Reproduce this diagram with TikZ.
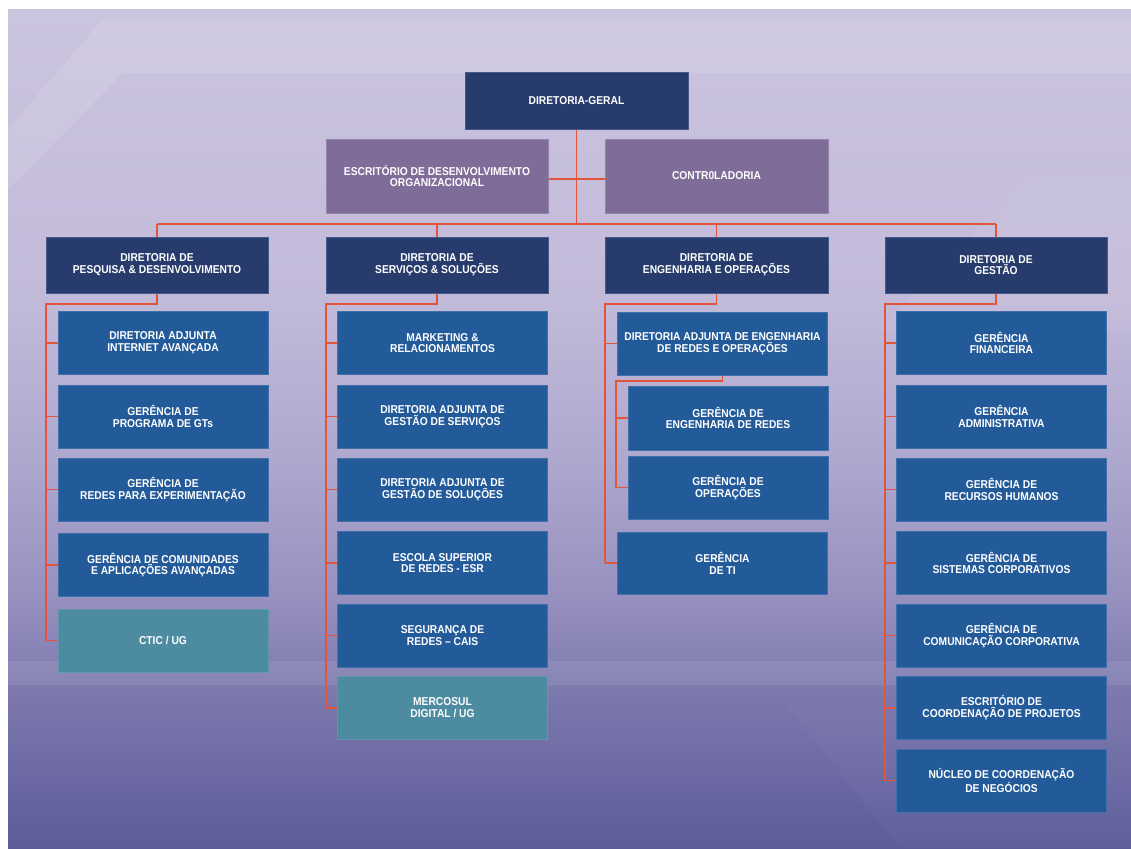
\documentclass[tikz,border=0pt]{standalone}
\usepackage{fontspec}
\setmainfont[FakeStretch=0.9]{Liberation Sans}
\usetikzlibrary{backgrounds}
\definecolor{navy}{HTML}{273C6C}
\definecolor{navyedge}{HTML}{45598A}
\definecolor{purp}{HTML}{7F6C98}
\definecolor{purpedge}{HTML}{9283AA}
\definecolor{blu}{HTML}{235B9A}
\definecolor{bluedge}{HTML}{3F70AA}
\definecolor{teal}{HTML}{4C8BA0}
\definecolor{tealedge}{HTML}{5E97AE}
\definecolor{linkred}{HTML}{E2553B}
\definecolor{bgA}{HTML}{5B5C98}
\definecolor{bgB}{HTML}{6966A2}
\definecolor{bgC}{HTML}{7B77AC}
\definecolor{bgD}{HTML}{9690BF}
\definecolor{bgE}{HTML}{B0A9CF}
\definecolor{bgF}{HTML}{C2BAD9}
\definecolor{bgG}{HTML}{CBC4DE}
\pgfdeclareverticalshading{bgshade}{100bp}{color(0bp)=(bgA);color(25bp)=(bgA);color(28.46bp)=(bgB);color(33.83bp)=(bgC);color(39.8bp)=(bgD);color(48.75bp)=(bgE);color(57.7bp)=(bgF);color(75bp)=(bgG);color(100bp)=(bgG)}
\pgfdeclarelayer{bglayer}
\pgfdeclarelayer{lines}
\pgfsetlayers{bglayer,lines,main}
\tikzset{
  boxbase/.style={rectangle, inner sep=0pt, align=center, text=white,
    font=\fontsize{11.4}{11.8}\selectfont\bfseries, line width=0.6pt},
  navybox/.style={boxbase, fill=navy, draw=navyedge},
  purplebox/.style={boxbase, fill=purp, draw=purpedge},
  bluebox/.style={boxbase, fill=blu, draw=bluedge},
  tealbox/.style={boxbase, fill=teal, draw=tealedge},
  topsize/.style={minimum width=222pt, minimum height=56pt},
  kidsize/.style={minimum width=210pt, minimum height=63pt},
  subsize/.style={minimum width=200pt, minimum height=63pt},
  link/.style={draw=linkred, line width=1.5pt}
}
\begin{document}
\begin{tikzpicture}[x=1pt,y=-1pt]
\useasboundingbox (0,0) rectangle (1131,848);
\begin{pgfonlayer}{bglayer}
  \fill[white] (0,0) rectangle (1131,848);
  \shade[shading=bgshade] (8,10) rectangle (1131,848);
  \fill[white, opacity=0.1] (103,19) -- (1131,19) -- (1131,73) -- (123,73) -- (8,190) -- (8,129) -- cycle;
  \fill[white, opacity=0.05] (1030,174) -- (1131,174) -- (1131,330) -- (880,330) -- cycle;
  \fill[white, opacity=0.08] (8,661) rectangle (1131,685);
  \fill[white, opacity=0.025] (787,706) -- (1131,706) -- (1131,848) -- (900,848) -- cycle;
\end{pgfonlayer}

% top level
\node[navybox, minimum width=223pt, minimum height=57pt] (dg) at (576.5,100.5) {DIRETORIA-GERAL};
\node[purplebox, minimum width=222pt, minimum height=74pt] (eso) at (437,176) {ESCRITÓRIO DE DESENVOLVIMENTO\\ORGANIZACIONAL};
\node[purplebox, minimum width=223pt, minimum height=74pt] (ctrl) at (716.5,176) {CONTR0LADORIA};

% directorates
\node[navybox, topsize] (pd) at (157,265) {DIRETORIA DE\\PESQUISA \& DESENVOLVIMENTO};
\node[navybox, topsize] (ss) at (437,265) {DIRETORIA DE\\SERVIÇOS \& SOLUÇÕES};
\node[navybox, topsize, minimum width=223pt] (eo) at (716.5,265) {DIRETORIA DE\\ENGENHARIA E OPERAÇÕES};
\node[navybox, topsize] (ge) at (996,265) {DIRETORIA DE\\GESTÃO};

% P&D
\node[bluebox, kidsize] (pd1) at (163,343) {DIRETORIA ADJUNTA\\INTERNET AVANÇADA};
\node[bluebox, kidsize] (pd2) at (163,416.5) {GERÊNCIA DE\\PROGRAMA DE GTs};
\node[bluebox, kidsize] (pd3) at (163,489.5) {GERÊNCIA DE\\REDES PARA EXPERIMENTAÇÃO};
\node[bluebox, kidsize] (pd4) at (163,565) {GERÊNCIA DE COMUNIDADES\\E APLICAÇÕES AVANÇADAS};
\node[tealbox, kidsize] (pd5) at (163,640.5) {CTIC / UG};

% S&S
\node[bluebox, kidsize] (ss1) at (442.5,343) {MARKETING \&\\RELACIONAMENTOS};
\node[bluebox, kidsize] (ss2) at (442.5,416.5) {DIRETORIA ADJUNTA DE\\GESTÃO DE SERVIÇOS};
\node[bluebox, kidsize] (ss3) at (442.5,489.5) {DIRETORIA ADJUNTA DE\\GESTÃO DE SOLUÇÕES};
\node[bluebox, kidsize] (ss4) at (442.5,563) {ESCOLA SUPERIOR\\DE REDES - ESR};
\node[bluebox, kidsize] (ss5) at (442.5,635.5) {SEGURANÇA DE\\REDES – CAIS};
\node[tealbox, kidsize] (ss6) at (442.5,708) {MERCOSUL\\DIGITAL / UG};

% E&O
\node[bluebox, kidsize] (eo1) at (722.5,343.5) {DIRETORIA ADJUNTA DE ENGENHARIA\\DE REDES E OPERAÇÕES};
\node[bluebox, subsize, minimum height=64pt] (eo2) at (728,418) {GERÊNCIA DE\\ENGENHARIA DE REDES};
\node[bluebox, subsize] (eo3) at (728,487.5) {GERÊNCIA DE\\OPERAÇÕES};
\node[bluebox, kidsize, minimum height=62pt] (eo4) at (722.5,563) {GERÊNCIA\\DE TI};

% Gestao
\node[bluebox, kidsize] (ge1) at (1001.5,343) {GERÊNCIA\\FINANCEIRA};
\node[bluebox, kidsize] (ge2) at (1001.5,416.5) {GERÊNCIA\\ADMINISTRATIVA};
\node[bluebox, kidsize] (ge3) at (1001.5,489.5) {GERÊNCIA DE\\RECURSOS HUMANOS};
\node[bluebox, kidsize] (ge4) at (1001.5,563) {GERÊNCIA DE\\SISTEMAS CORPORATIVOS};
\node[bluebox, kidsize] (ge5) at (1001.5,635.5) {GERÊNCIA DE\\COMUNICAÇÃO CORPORATIVA};
\node[bluebox, kidsize] (ge6) at (1001.5,708) {ESCRITÓRIO DE\\COORDENAÇÃO DE PROJETOS};
\node[bluebox, kidsize] (ge7) at (1001.5,780.5) {NÚCLEO DE COORDENAÇÃO\\DE NEGÓCIOS};

\coordinate (bus) at (576.5,224);
\coordinate (pdr) at (46,304);
\coordinate (ssr) at (326,304);
\coordinate (eor) at (605,304);
\coordinate (ger) at (885,304);
\coordinate (eosr) at (616,381);

\begin{pgfonlayer}{lines}
  \draw[link] (dg.south) -- (bus);
  \draw[link] ([yshift=-3pt]eso.east) -- ([yshift=-3pt]ctrl.west);
  \draw[link] (pd.north |- bus) -- (ge.north |- bus);
  \foreach \n in {pd,ss,eo,ge} \draw[link] (\n.north |- bus) -- (\n.north);
  % P&D rail
  \draw[link] (pd.south) |- (pdr) -- (pdr |- pd5.west);
  \foreach \k in {1,...,5} \draw[link] (pdr |- pd\k.west) -- (pd\k.west);
  % S&S rail
  \draw[link] (ss.south) |- (ssr) -- (ssr |- ss6.west);
  \foreach \k in {1,...,6} \draw[link] (ssr |- ss\k.west) -- (ss\k.west);
  % E&O rail
  \draw[link] (eo.south) |- (eor) -- (eor |- eo4.west);
  \foreach \k in {1,4} \draw[link] (eor |- eo\k.west) -- (eo\k.west);
  \draw[link] (eo1.south) |- (eosr) -- (eosr |- eo3.west);
  \foreach \k in {2,3} \draw[link] (eosr |- eo\k.west) -- (eo\k.west);
  % Gestao rail
  \draw[link] (ge.south) |- (ger) -- (ger |- ge7.west);
  \foreach \k in {1,...,7} \draw[link] (ger |- ge\k.west) -- (ge\k.west);
\end{pgfonlayer}
\end{tikzpicture}
\end{document}
